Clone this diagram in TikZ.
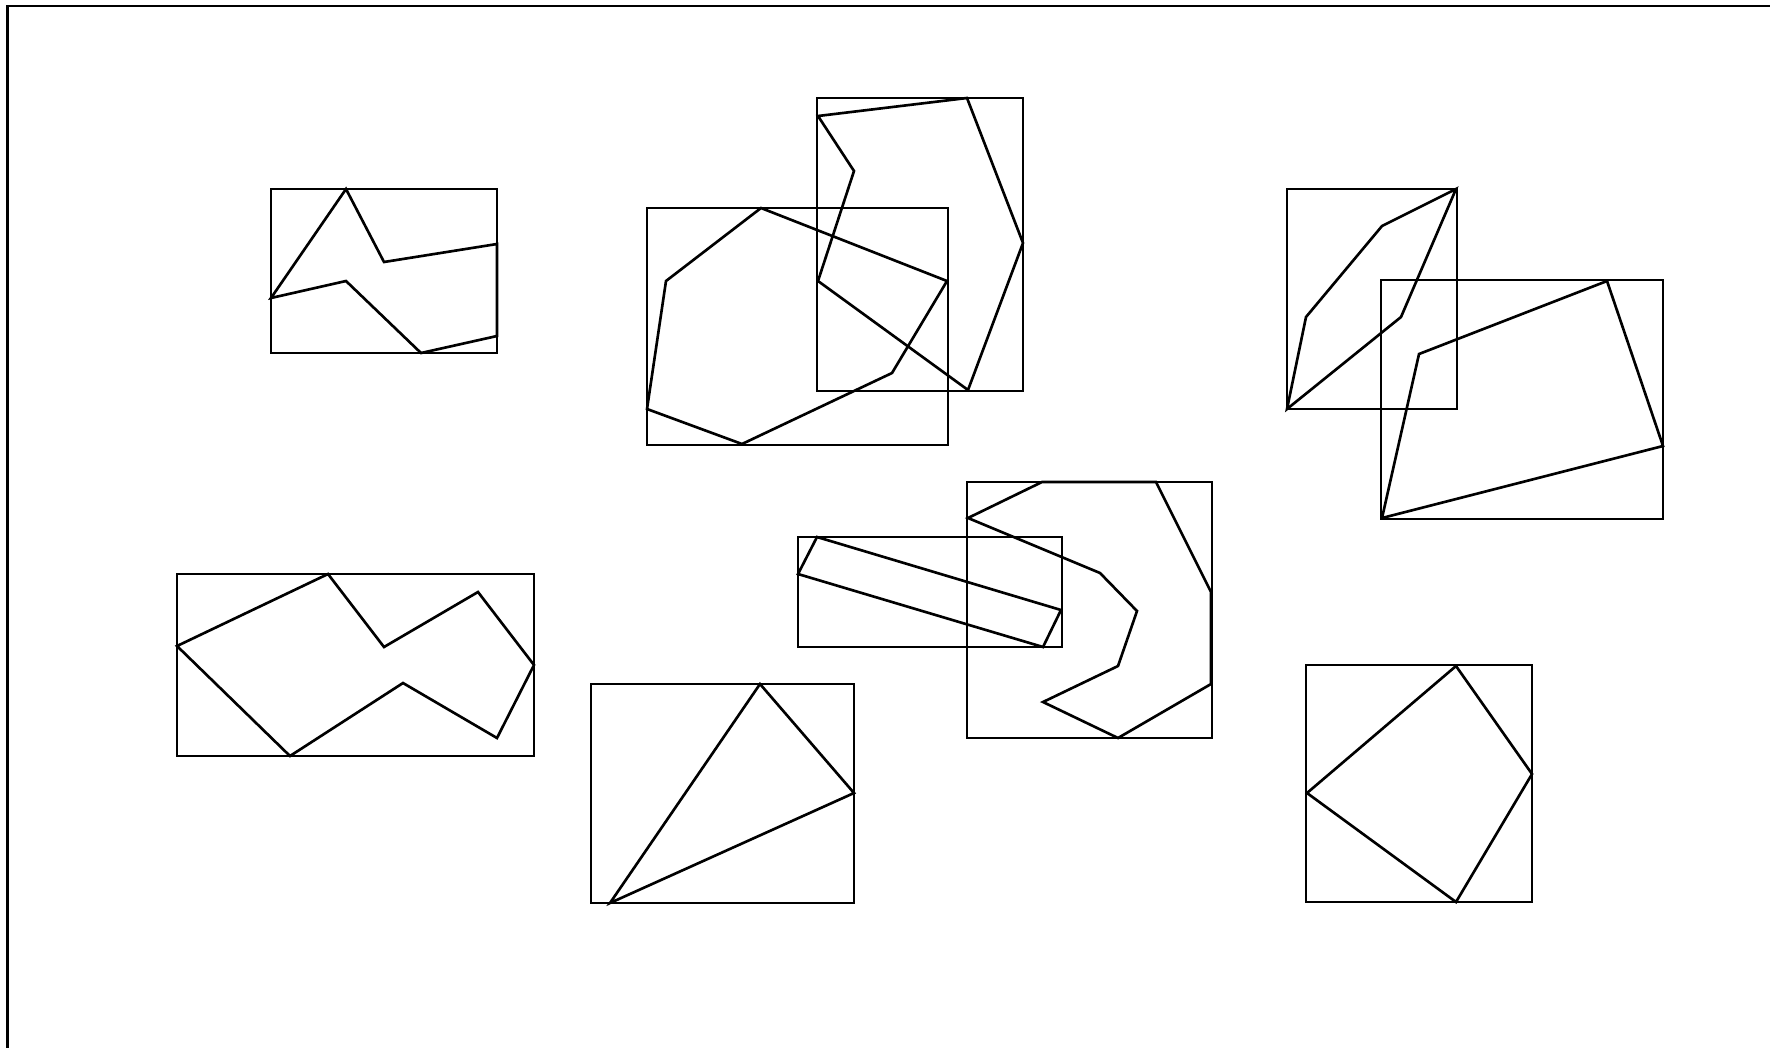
\documentclass[tikz,border=0pt]{standalone}
\usepackage{tikz}
\tikzset{
    bbox/.style={draw=black, line width=0.75pt},
    poly/.style={draw=black, line width=0.75pt, line join=miter},
    frameline/.style={draw=black, line width=0.8pt}
}
\begin{document}
\begin{tikzpicture}[x=0.01cm, y=-0.01cm]
    \useasboundingbox (0,0) rectangle (1770,1048);
    % Outer frame (open to the right and bottom)
    \draw[frameline] (1770,6) -- (7.5,6) -- (7.5,1048);
    % === TOP ROW ===
    % Zigzag band
    \draw[bbox] (271,189) rectangle (497,353);
    \draw[poly] (271,298) -- (346,189) -- (384,262) -- (497,244) -- (497,336) -- (421,353) -- (346,281) -- cycle;
    % Two overlapping hexagons
    \draw[bbox] (647,208) rectangle (948,445);
    \draw[poly] (647,409) -- (666,281) -- (761,208) -- (947,281) -- (892,373) -- (742,444) -- cycle;
    \draw[bbox] (817,98) rectangle (1023,391);
    \draw[poly] (818,116) -- (967,98) -- (1023,243) -- (968,390) -- (818,281) -- (854,171) -- cycle;
    % Sliver and quadrilateral
    \draw[bbox] (1287,189) rectangle (1457,409);
    \draw[poly] (1287,409) -- (1306,317) -- (1382,226) -- (1456,189) -- (1401,317) -- cycle;
    \draw[bbox] (1381,280) rectangle (1663,519);
    \draw[poly] (1382,518) -- (1419,354) -- (1607,281) -- (1663,446) -- cycle;
    % === BOTTOM ROW ===
    % Fish shape
    \draw[bbox] (177,574) rectangle (534,756);
    \draw[poly] (177,646) -- (328,574) -- (384,647) -- (478,592) -- (534,665) -- (497,738) -- (403,683) -- (290,756) -- cycle;
    % Triangle
    \draw[bbox] (591,684) rectangle (854,903);
    \draw[poly] (610,903) -- (760,684) -- (854,793) -- cycle;
    % Tilted strip and hook
    \draw[bbox] (798,537) rectangle (1062,647);
    \draw[poly] (817,537) -- (1061,610) -- (1043,647) -- (798,574) -- cycle;
    \draw[bbox] (967,482) rectangle (1212,738);
    \draw[poly] (968,518) -- (1042,482) -- (1156,482) -- (1211,592) -- (1211,684) -- (1118,738)
        -- (1043,702) -- (1118,666) -- (1137,611) -- (1100,573) -- cycle;
    % Tilted square
    \draw[bbox] (1306,665) rectangle (1532,902);
    \draw[poly] (1307,793) -- (1456,666) -- (1532,774) -- (1456,902) -- cycle;
\end{tikzpicture}
\end{document}
